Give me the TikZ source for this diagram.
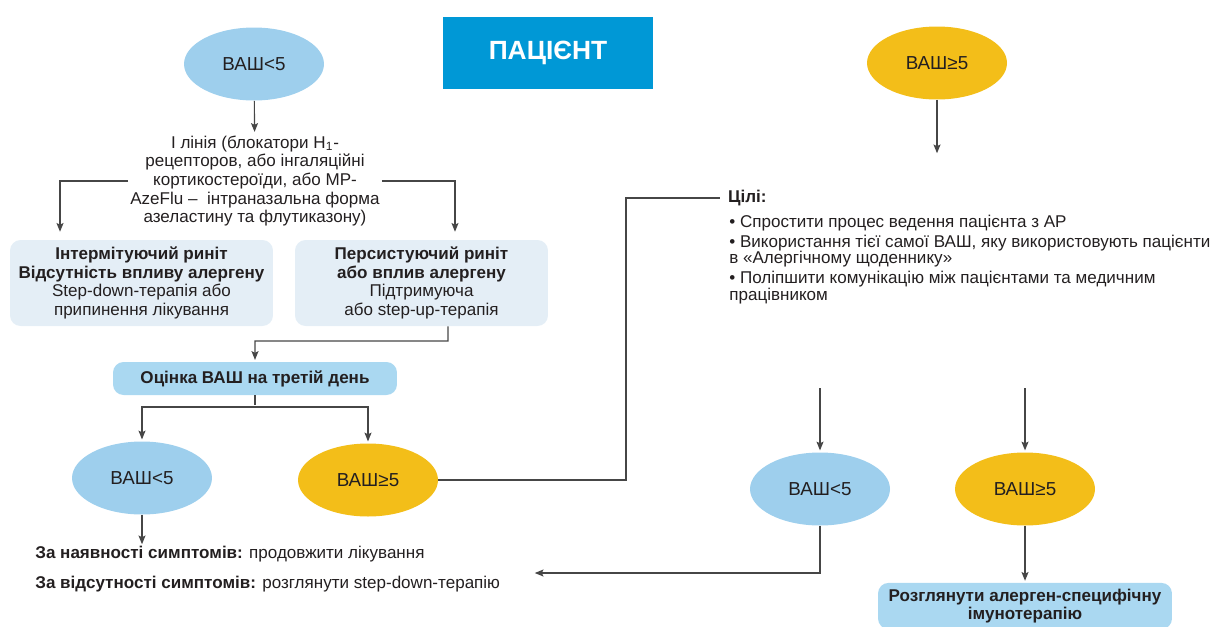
\documentclass[tikz,border=0pt]{standalone}
\usepackage{fontspec}
\setmainfont{Liberation Sans}
\usetikzlibrary{shapes.geometric,arrows.meta}

\definecolor{titleblue}{RGB}{0,152,214}
\definecolor{vasblue}{RGB}{158,207,237}
\definecolor{vasyellow}{RGB}{243,190,25}
\definecolor{boxgray}{RGB}{228,238,246}
\definecolor{boxblue}{RGB}{170,216,241}
\definecolor{ln}{RGB}{70,70,70}
\definecolor{txt}{RGB}{35,31,32}

\begin{document}
\begin{tikzpicture}[x=0.02cm, y=-0.02cm,
    font=\fontsize{9.7}{10.6}\selectfont, text=txt,
    >={Stealth[length=5pt,width=4pt,inset=1pt]},
    wire/.style={draw=ln, line width=0.65pt, shorten >=1pt},
    vas/.style={ellipse, minimum width=2.8cm, minimum height=1.46cm, inner sep=0pt, font=\fontsize{10.7}{12}\selectfont},
    lo/.style={vas, fill=vasblue},
    hi/.style={vas, fill=vasyellow},
    pale/.style={rounded corners=6pt, fill=boxgray, align=center, minimum height=1.72cm},
    tag/.style={rounded corners=6pt, fill=boxblue, align=center, font=\fontsize{9.7}{10.6}\selectfont\bfseries}]

    \useasboundingbox (0,0) rectangle (1219,626);

    \node[fill=titleblue, text=white, minimum width=4.22cm, minimum height=1.44cm, font=\fontsize{15}{17}\selectfont\bfseries] (pat) at (548,53) {ПАЦІЄНТ};

    \node[lo] (v1) at (254,64) {ВАШ<5};
    \node[align=center, inner sep=1pt] (first) at (255,181) {І лінія (блокатори H\textsubscript{1}-\\рецепторов, або інгаляційні\\кортикостероїди, або МР-\\AzeFlu – \ інтраназальна форма\\азеластину та флутиказону)};
    \node[pale, minimum width=5.26cm] (int) at (141.5,283) {\textbf{Інтермітуючий риніт}\\\textbf{Відсутність впливу алергену}\\Step-down-терапія або\\припинення лікування};
    \node[pale, minimum width=5.06cm] (per) at (421.5,283) {\textbf{Персистуючий риніт}\\\textbf{або вплив алергену}\\Підтримуюча\\або step-up-терапія};
    \node[tag, minimum width=5.68cm, minimum height=0.66cm] (est) at (255,378.5) {Оцінка ВАШ на третій день};
    \node[lo] (v2) at (142,478) {ВАШ<5};
    \node[hi] (v3) at (368,480) {ВАШ≥5};
    \node[align=left, anchor=north west, inner sep=0pt] (res) at (35,546) {\textbf{За наявності симптомів:} продовжити лікування\\[6.2pt]\textbf{За відсутності симптомів:} розглянути step-down-терапію};

    \node[hi] (v4) at (937,63) {ВАШ≥5};
    \node[anchor=west, font=\fontsize{9.7}{10.6}\selectfont\bfseries] (goal) at (722,198) {Цілі:};
    \node[align=left, anchor=north west, inner sep=0pt, font=\fontsize{9.7}{9.6}\selectfont] (aims) at (729,215) {• Спростити процес ведення пацієнта з АР\\[1.4pt]• Використання тієї самої ВАШ, яку використовують пацієнти\\в «Алергічному щоденнику»\\[1.4pt]• Поліпшити комунікацію між пацієнтами та медичним\\працівником};
    \node[lo] (v5) at (820,489) {ВАШ<5};
    \node[hi] (v6) at (1025,489) {ВАШ≥5};
    \node[tag, minimum width=5.88cm, minimum height=0.92cm] (ait) at (1025,606) {Розглянути алерген-специфічну\\імунотерапію};

    \coordinate (j1) at (448,341);
    \coordinate (j2) at (255,407);
    \coordinate (j3) at (626,198);
    \coordinate (e1) at (937,155);
    \coordinate (s1) at (820,388);
    \coordinate (s2) at (1025,388);
    \coordinate (e2) at (533,573);

    \draw[wire,->] (v1) -- (first);
    \draw[wire,->,shorten >=4.5pt] (first.west) -| ([xshift=-1.63cm]int.north);
    \draw[wire,->,shorten >=4.5pt] (first.east) -| ([xshift=0.67cm]per.north);
    \draw[wire,->] ([xshift=0.53cm]per.south) -- (j1) -| (est);
    \draw[wire] (est) -- (j2);
    \draw[wire,->] (j2) -| (v2);
    \draw[wire,->] (j2) -| (v3);
    \draw[wire,->] (v2) -- (v2 |- res.north);
    \draw[wire] (v3) -| (j3) -- (goal);
    \draw[wire,->] (v4) -- (e1);
    \draw[wire,->] (s1) -- (v5);
    \draw[wire,->] (s2) -- (v6);
    \draw[wire,->] (v5) |- (e2);
    \draw[wire,->] (v6) -- (ait);

\end{tikzpicture}
\end{document}
